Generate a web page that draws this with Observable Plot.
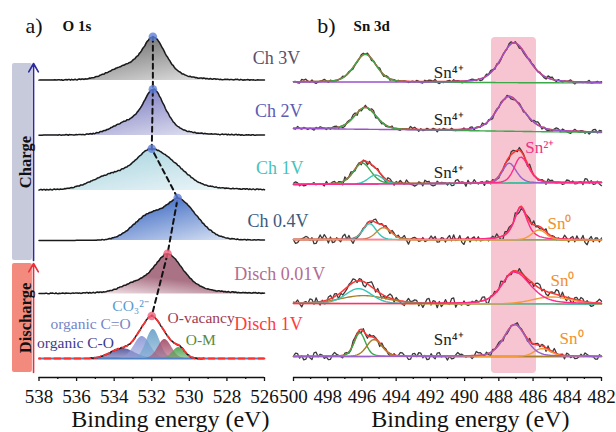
<!DOCTYPE html>
<html><head><meta charset="utf-8">
<script src="https://cdn.jsdelivr.net/npm/d3@7"></script>
<script src="https://cdn.jsdelivr.net/npm/@observablehq/plot@0.6"></script>
<style>
html,body{margin:0;padding:0;background:#fff;}
#chart{position:relative;width:616px;height:432px;overflow:hidden;background:#fff;}
#chart svg{position:absolute;left:0;top:0;}
</style></head><body><div id="chart"></div>
<script>
const FONT = '"Liberation Serif","Times New Roman",serif';

// hand-typed jitter pattern for the measured (raw) spectra
const noise = [0.3,-0.6,0.8,-0.2,-0.9,0.5,0.1,-0.4,0.9,-0.7,0.2,0.6,-0.3,-0.8,0.4,0.7,-0.5,0.0,0.8,-0.6,-0.1,0.5,-0.9,0.3,0.6,-0.4,-0.7,0.9,0.1,-0.3,0.4,-0.8,0.7,0.2,-0.5,-0.2,0.8,-0.6,0.3,0.5,-0.9,0.1,0.6,-0.4,-0.1,0.7,-0.7,0.2,0.9,-0.3,-0.6,0.4,0.0,-0.8,0.5,0.3,-0.5,0.8,-0.2,-0.4];

// ---------- panel a : O 1s ----------
const o1sTicks = [538,536,534,532,530,528,526];
const o1sMinor = [537,535,533,531,529,527];
const o1sNames = ["Ch 3V","Ch 2V","Ch 1V","Ch 0.4V","Disch 0.01V","Disch 1V"];
const o1sOffsets = [297,242,187,137,83.5,19];
// peaks: [center eV, height, HWHM high-BE side, HWHM low-BE side, lorentz fraction]
const o1sPeaks = [
  [[531.9,42,0.75,0.8,0.6],[533.5,10,1.0,1.0,0]],
  [[531.9,45,0.7,0.75,0.6],[533.4,9,0.9,0.9,0]],
  [[532.0,40,1.1,1.4,0.5],[534.2,12,1.2,1.2,0],[530.6,5,0.8,0.8,0]],
  [[530.45,35,0.75,1.15,0.2],[532.0,26,1.1,1.1,0]],
  [[531.15,40,0.95,1.0,0.6],[533.0,6,0.8,0.8,0]]
];
const o1sFillTop = ["#818181","#8b8bc8","#b6dbe4","#5a80cc","#aa7285"];
const o1sFillEnd = ["#f6f6f6","#f4f4fb","#f3f9fb","#eef3fb","#fbf2f5"];
const o1sLabelColors = ["#5b5068","#5c5cb4","#45c3c0","#3c5a7c","#b26d92","#ff3b3b"];
const o1sLabelX = [526.63,526.51,526.45,526.9,527.61,527.61];
const o1sLabelY = [319,266,209,156,103,53];
const o1sDotColors = ["#5f7fd8","#5f7fd8","#5f7fd8","#5f7fd8","#f0607a","#f0607a"];

const compNames = ["organic C-O","organic C=O","CO₃²⁻","O-vacancy","O-M"];
const compPeaks = [[533.56,10,0.75,0.75,0],[532.5,22,0.5,0.5,0],[531.92,29,0.42,0.42,0],[531.3,19,0.42,0.42,0],[530.55,11,0.38,0.38,0]];
const compColors = ["#55559f","#8f9bd8","#6ea4cc","#a7506e","#4fa352"];
const compTextColors = ["#3c3c90","#7585c8","#5a9bd0","#a03a55","#5a8a3a"];
const compLabelX = [538.1,537.39,534.1,531.16,530.19];
const compLabelY = [34,53,71,59,37];

const phaseNames = ["Charge","Discharge"];
const phaseTop = [314,114];
const phaseBottom = [117,5];
const phaseFill = ["#c7cadb","#f28b7d"];
const phaseArrow = ["#2b2b9c","#e8303a"];

// ---------- panel b : Sn 3d ----------
const snTicks = [500,498,496,494,492,490,488,486,484,482];
const snMinor = [499,497,495,493,491,489,487,485,483];
const snOffsets = [295,248,194,138,74,21];
const snBgL = [0.5,1,-1,0,0,0];
const snBgR = [-0.5,-3,1,-0.5,-0.5,0];
const snNoiseAmp = [2.2,2.8,3.8,5,5.2,4.3];
// [colour, center, height, HWHM high-BE, HWHM low-BE, lorentz fraction]
const snPeaks = [
  [["#3ca84a",495.8,28,0.75,0.75,0.3],["#9a52c8",487.12,40,0.9,1.0,0.4]],
  [["#3ca84a",495.8,22,0.75,0.75,0.3],["#9a52c8",487.4,35,0.85,1.0,0.4]],
  [["#3ca84a",495.98,21,0.6,0.6,0.3],["#38c6b8",495.2,9,0.5,0.5,0.2],["#9a60c8",487.4,20,0.45,0.5,0.3],["#ff2a8a",486.72,26,0.45,0.55,0.3]],
  [["#38c6b8",495.55,16,0.45,0.45,0.2],["#c48a3a",494.75,12,0.5,0.55,0.2],["#ff2a8a",486.72,33,0.45,0.45,0.7],["#f39a3a",485.65,10,0.5,0.5,0.2]],
  [["#a8802a",495.9,8,1.6,1.6,0],["#38c6b8",496.2,15,0.9,0.9,0.2],["#f39a3a",484.9,7,1.3,1.3,0],["#ff2a8a",487.1,32,0.85,1.1,0.4]],
  [["#3ca84a",496.12,24,0.38,0.38,0.3],["#a8802a",495.3,17,0.5,0.55,0.2],["#f39a3a",485.47,8,0.55,0.6,0.2],["#9a60c8",487.07,32,0.75,0.75,0.3]]
];
const snLabelText = ["Sn⁴⁺","Sn⁴⁺","Sn⁴⁺","Sn²⁺","Sn⁰","Sn⁰","Sn⁴⁺","Sn⁰"];
const snLabelX = [491.8,491.8,491.8,486.45,485.16,484.98,491.8,484.45];
const snLabelY = [304.5,258,205,230,154,97,38,39];
const snLabelColor = ["#222","#222","#222","#f0308a","#f0902e","#f0902e","#222","#f0902e"];
const bandRange = [488.43,485.8];
const bandY = [4,340];

// ---------- helpers ----------
function pv(e,p){const c=p[0],h=p[1],w=e>=c?p[2]:p[3],eta=p[4];const t=(e-c)/w;return h*(eta/(1+t*t)+(1-eta)*Math.exp(-Math.LN2*t*t));}
function total(e,peaks){let s=0;for(const p of peaks)s+=pv(e,p);return s;}

const eA = d3.range(0,201).map(i=>526+i*0.06);
const eB = d3.range(0,151).map(i=>482+i*0.12);

// ---------- left plot marks ----------
const L = [];
phaseNames.forEach((n,i)=>{
  L.push(Plot.rect([n],{x1:539.41,x2:538.35,y1:phaseBottom[i],y2:phaseTop[i],fill:phaseFill[i],rx:2}));
  L.push(Plot.arrow([n],{x1:538.29,x2:538.29,y1:phaseBottom[i],y2:phaseTop[i],stroke:phaseArrow[i],strokeWidth:1.6,headLength:9}));
  L.push(Plot.text([n],{x:538.72,y:(phaseTop[i]+phaseBottom[i])/2,text:d=>d,rotate:-90,fontSize:16.5,fontWeight:"bold",fontFamily:FONT,fill:"#111"}));
});
const tops = [];
o1sPeaks.forEach((peaks,k)=>{
  const off = o1sOffsets[k];
  const rows = eA.map((e,i)=>{const s=total(e,peaks);return {e,s,y:off+s+(s>0.5?0.45*noise[(i*7+k*13)%60]:0)};});
  L.push(Plot.areaY(rows.filter(r=>r.s>0.3),{x:"e",y1:off,y2:"y",fill:`url(#og${k})`}));
  L.push(Plot.line(rows,{x:"e",y:"y",stroke:"#1a1a1a",strokeWidth:1.5}));
  const m = d3.greatest(rows,r=>r.s); tops.push({e:m.e,y:off+m.s,c:o1sDotColors[k]});
});
// Disch 1V with fitted components
{
  const off = o1sOffsets[5];
  L.push(Plot.ruleY([off],{stroke:"#4f82c4",strokeWidth:2.2}));
  compPeaks.forEach((p,j)=>{
    const rows = eA.map(e=>({e,s:pv(e,p)})).filter(r=>r.s>0.2).map(r=>({e:r.e,y:off+r.s}));
    L.push(Plot.areaY(rows,{x:"e",y1:off,y2:"y",fill:`url(#cg${j})`}));
  });
  const env = eA.map(e=>{const s=total(e,compPeaks);return {e,s,y:off+s};});
  L.push(Plot.line(env.filter(r=>r.e<535.3&&r.e>529.2).map((r,i)=>({e:r.e,y:r.y+0.5*noise[(i*7+5)%60]})),{x:"e",y:"y",stroke:"#1a1a1a",strokeWidth:1.5}));
  L.push(Plot.line(env,{x:"e",y:"y",stroke:"#ff3030",strokeWidth:1.8,strokeDasharray:"6,4"}));
  const m = d3.greatest(env,r=>r.s); tops.push({e:m.e,y:off+m.s,c:o1sDotColors[5]});
  compNames.forEach((n,j)=>L.push(Plot.text([n],{x:compLabelX[j],y:compLabelY[j],text:d=>d,textAnchor:"start",fontSize:15.5,fontFamily:FONT,fill:compTextColors[j]})));
}
L.push(Plot.line(tops,{x:"e",y:"y",stroke:"#111",strokeWidth:2,strokeDasharray:"5,4"}));
L.push(Plot.dot(tops,{x:"e",y:"y",r:4.3,fill:"c",fillOpacity:0.8}));
o1sNames.forEach((n,k)=>L.push(Plot.text([n],{x:o1sLabelX[k],y:o1sLabelY[k],text:d=>d,textAnchor:"start",fontSize:18,fontFamily:FONT,fill:o1sLabelColors[k]})));
L.push(Plot.text(["a)"],{x:538.72,y:352,text:d=>d,textAnchor:"start",fontSize:22,fontFamily:FONT,fill:"#111"}));
L.push(Plot.text(["O 1s"],{x:536.75,y:351,text:d=>d,textAnchor:"start",fontSize:15,fontWeight:"bold",fontFamily:FONT,fill:"#111"}));
L.push(Plot.ruleY([0],{stroke:"#111",strokeWidth:1.3}));
L.push(Plot.axisX({ticks:o1sTicks,tickSize:4,tickPadding:7.5,fontSize:19,fontFamily:FONT,fill:"#111",stroke:"#111",strokeWidth:1.3,label:null,tickFormat:d=>String(d)}));
L.push(Plot.axisX({ticks:o1sMinor,tickSize:2,tickPadding:0,stroke:"#111",strokeWidth:1.3,label:null,tickFormat:()=>""}));
L.push(Plot.text(["Binding energy (eV)"],{x:531.01,y:-42,text:d=>d,fontSize:24,fontFamily:FONT,fill:"#111"}));

// ---------- right plot marks ----------
const R = [];
R.push(Plot.rect([0],{x1:bandRange[0],x2:bandRange[1],y1:bandY[0],y2:bandY[1],fill:"#f6c5d1",rx:4}));
snPeaks.forEach((spec,k)=>{
  const off = snOffsets[k];
  const bg = e=>off+snBgL[k]+(snBgR[k]-snBgL[k])*(500-e)/18;
  const peaks = spec.map(p=>p.slice(1));
  const raw = eB.map((e,i)=>({e,y:bg(e)+total(e,peaks)+snNoiseAmp[k]*(0.7*noise[(i*7+k*11)%60]+0.5*noise[(Math.floor(i/3)+k*17)%60])}));
  R.push(Plot.line(raw,{x:"e",y:"y",stroke:"#3a3a3a",strokeWidth:1.3}));
  R.push(Plot.line(eB.map(e=>({e,y:bg(e)+total(e,peaks)})),{x:"e",y:"y",stroke:"#ff3333",strokeWidth:1.5}));
  spec.forEach(p=>{
    R.push(Plot.line(eB.map(e=>({e,y:bg(e)+pv(e,p.slice(1))})),{x:"e",y:"y",stroke:p[0],strokeWidth:1.4}));
  });
});
snLabelText.forEach((t,i)=>R.push(Plot.text([t],{x:snLabelX[i],y:snLabelY[i],text:d=>d,textAnchor:"start",fontSize:17,fontFamily:FONT,fill:snLabelColor[i]})));
R.push(Plot.text(["b)"],{x:498.61,y:352,text:d=>d,textAnchor:"start",fontSize:22,fontFamily:FONT,fill:"#111"}));
R.push(Plot.text(["Sn 3d"],{x:496.49,y:351,text:d=>d,textAnchor:"start",fontSize:15,fontWeight:"bold",fontFamily:FONT,fill:"#111"}));
R.push(Plot.ruleY([0],{stroke:"#111",strokeWidth:1.3}));
R.push(Plot.axisX({ticks:snTicks,tickSize:4,tickPadding:7.5,fontSize:19,fontFamily:FONT,fill:"#111",stroke:"#111",strokeWidth:1.3,label:null,tickFormat:d=>String(d)}));
R.push(Plot.axisX({ticks:snMinor,tickSize:2,tickPadding:0,stroke:"#111",strokeWidth:1.3,label:null,tickFormat:()=>""}));
R.push(Plot.text(["Binding energy (eV)"],{x:489.66,y:-42,text:d=>d,fontSize:24,fontFamily:FONT,fill:"#111"}));

const common = {width:616,height:432,marginTop:0,marginBottom:55,y:{domain:[0,377],axis:null},color:{type:"identity"}};
const right = Plot.plot({...common,marginLeft:293,marginRight:15,x:{domain:[500,482],label:null},style:{background:"#fff",fontFamily:FONT,overflow:"visible"},marks:R});
const left = Plot.plot({...common,marginLeft:38.5,marginRight:352,x:{domain:[538,526],label:null},style:{background:"transparent",fontFamily:FONT,overflow:"visible"},marks:L});

// gradients for the O 1s fills
const defs = d3.select(left).insert("defs",":first-child");
o1sFillTop.forEach((c,i)=>{
  const g = defs.append("linearGradient").attr("id","og"+i).attr("x1",i===4?0.15:0).attr("y1",i===4?1:0).attr("x2",i===4?0.75:1).attr("y2",i===4?0.1:1);
  if(i===4){g.append("stop").attr("offset",0).attr("stop-color",o1sFillEnd[i]);g.append("stop").attr("offset",0.5).attr("stop-color",c);}
  else{g.append("stop").attr("offset",0.3).attr("stop-color",c);g.append("stop").attr("offset",1).attr("stop-color",o1sFillEnd[i]);}
});
compColors.forEach((c,j)=>{
  const g = defs.append("linearGradient").attr("id","cg"+j).attr("x1",0).attr("y1",0).attr("x2",0).attr("y2",1);
  g.append("stop").attr("offset",0).attr("stop-color",c).attr("stop-opacity",0.95);
  g.append("stop").attr("offset",1).attr("stop-color",c).attr("stop-opacity",0.55);
});

document.getElementById("chart").append(right,left);
</script></body></html>
